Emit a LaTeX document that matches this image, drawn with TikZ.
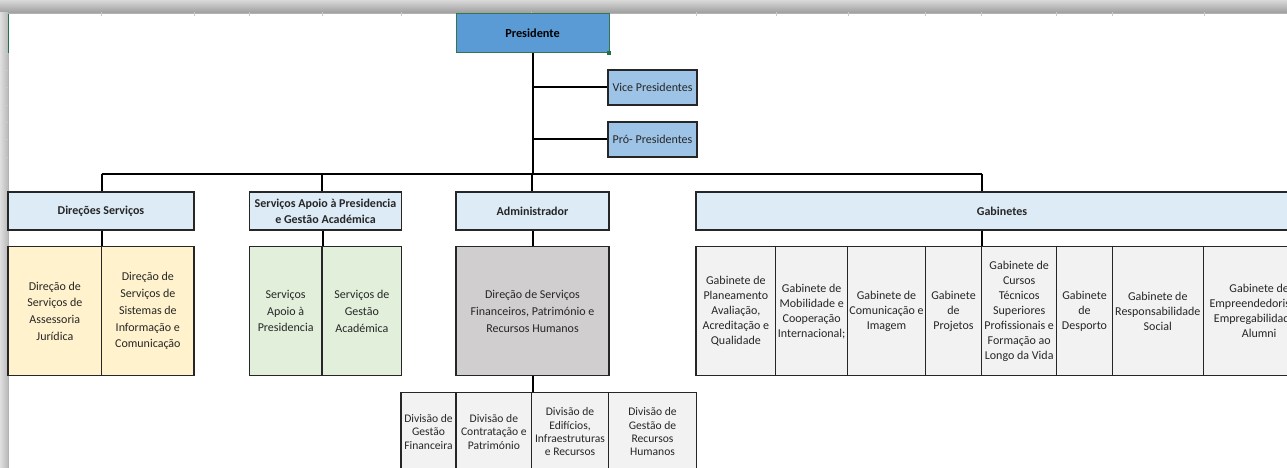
\documentclass[tikz,border=0pt]{standalone}
\usepackage{fontspec}
\setmainfont{Carlito}
\definecolor{presblue}{HTML}{5B9BD5}
\definecolor{vpblue}{HTML}{9DC3E6}
\definecolor{hdrblue}{HTML}{DDEBF7}
\definecolor{ylw}{HTML}{FFF2CC}
\definecolor{grn}{HTML}{E2EFDA}
\definecolor{gry}{HTML}{D0CECE}
\definecolor{ltg}{HTML}{F2F2F2}
\definecolor{selgreen}{HTML}{217346}
\definecolor{txt}{HTML}{262626}
\definecolor{gridln}{HTML}{C8C8C8}
\newcommand{\cellbox}[7]{%
  \node[#6, minimum width={(#4-#2)*1pt}, minimum height={(#5-#3)*1pt}] (#1) at ({(#2+#4)/2},{(#3+#5)/2}) {#7};}
\tikzset{
  cell/.style={draw=black!85, line width=1.1pt, inner sep=0pt, align=center, text=txt,
    font=\fontsize{12}{16.7}\selectfont},
  hdr/.style={cell, fill=hdrblue, line width=1.5pt, font=\bfseries\fontsize{12}{16}\selectfont},
  vpbox/.style={cell, fill=vpblue, line width=1.6pt},
  ylwcell/.style={cell, fill=ylw},
  grncell/.style={cell, fill=grn},
  grycell/.style={cell, fill=gry},
  gabcell/.style={cell, fill=ltg, font=\fontsize{12}{15}\selectfont},
  divcell/.style={cell, fill=ltg, font=\fontsize{11.6}{13.3}\selectfont},
  presbox/.style={cell, fill=presblue, draw=selgreen!80!gray, line width=1pt, text=black,
    font=\bfseries\fontsize{12.3}{15}\selectfont},
  link/.style={line width=2pt, black},
  tick/.style={gridln, line width=0.8pt},
}
\begin{document}
\begin{tikzpicture}[x=1pt, y=-1pt]
\useasboundingbox (0,0) rectangle (1287,468);
\clip (0,0) rectangle (1287,468);
\fill[white] (0,0) rectangle (1287,468);
% window frame
\shade[top color=gray!30, bottom color=gray!75] (0,0) rectangle (1287,12.5);
\shade[left color=gray!25, right color=gray!55] (0,12.5) rectangle (8,468);
\draw[gray!60, line width=1pt] (8,13.5) -- (1287,13.5);
\draw[gray!60, line width=1pt] (8,13.5) -- (8,468);
\draw[selgreen, line width=1.2pt] (8.3,14) -- (8.3,53);
\foreach \xx in {101.7,194,249,322,401.5,531.7,696.7,776.7,848,925.7,981,1056.7,1112.3,1204.3}
  \draw[tick] (\xx,12.5) -- (\xx,16);
\foreach \yy in {53,70,87.5,105,122,139,157}
  \draw[tick] (5,\yy) -- (8,\yy);

% boxes
\cellbox{pres}{456}{14}{609}{53}{presbox}{Presidente}
\node[fill=selgreen, minimum size=3.5pt, inner sep=0pt] (handle) at (609,53) {};
\cellbox{vice}{608}{70}{697}{105}{vpbox}{Vice Presidentes}
\cellbox{pro}{608}{122}{697}{157}{vpbox}{Pró- Presidentes}

\cellbox{dir}{8}{192}{194}{230}{hdr}{Direções Serviços}
\cellbox{sap}{249.3}{192}{401.7}{230}{hdr}{Serviços Apoio à Presidencia\\e Gestão Académica}
\cellbox{adm}{456}{192}{609}{230}{hdr}{Administrador}
\cellbox{gab}{696}{192}{1308}{230}{hdr}{Gabinetes}

\cellbox{y1}{8}{246.7}{101.7}{375.7}{ylwcell}{Direção de\\Serviços de\\Assessoria\\Jurídica}
\cellbox{y2}{101.7}{246.7}{194}{375.7}{ylwcell}{Direção de\\Serviços de\\Sistemas de\\Informação e\\Comunicação}
\cellbox{g1}{249.3}{246.7}{322}{375.7}{grncell}{Serviços\\Apoio à\\Presidencia}
\cellbox{g2}{322}{246.7}{401.7}{375.7}{grncell}{Serviços de\\Gestão\\Académica}
\cellbox{gr}{456}{246.7}{609}{375.7}{grycell}{Direção de Serviços\\Financeiros, Património e\\Recursos Humanos}

\cellbox{k1}{696}{246.7}{775.7}{375.7}{gabcell}{Gabinete de\\Planeamento\\Avaliação,\\Acreditação e\\Qualidade}
\cellbox{k2}{775.7}{246.7}{847.7}{375.7}{gabcell}{Gabinete de\\Mobilidade e\\Cooperação\\Internacional;}
\cellbox{k3}{847.7}{246.7}{925.3}{375.7}{gabcell}{Gabinete de\\Comunicação e\\Imagem}
\cellbox{k4}{925.3}{246.7}{981.7}{375.7}{gabcell}{Gabinete\\de\\Projetos}
\cellbox{k5}{981.7}{246.7}{1056.7}{375.7}{gabcell}{Gabinete de\\Cursos\\Técnicos\\Superiores\\Profissionais e\\Formação ao\\Longo da Vida}
\cellbox{k6}{1056.7}{246.7}{1112.3}{375.7}{gabcell}{Gabinete\\de\\Desporto}
\cellbox{k7}{1112.3}{246.7}{1203.3}{375.7}{gabcell}{Gabinete de\\Responsabilidade\\Social}
\cellbox{k8}{1203.3}{246.7}{1315}{375.7}{gabcell}{Gabinete de\\Empreendedorismo,\\Empregabilidade e\\Alumni}

\cellbox{d1}{401}{392.7}{456}{471}{divcell}{Divisão de\\Gestão\\Financeira}
\cellbox{d2}{456}{392.7}{531.7}{471}{divcell}{Divisão de\\Contratação e\\Património}
\cellbox{d3}{531.7}{392.7}{608.3}{471}{divcell}{Divisão de\\Edifícios,\\Infraestruturas\\e Recursos}
\cellbox{d4}{608.3}{392.7}{696.7}{471}{divcell}{Divisão de\\Gestão de\\Recursos\\Humanos}

% connectors
\coordinate (busL) at (101.7,174);
\coordinate (busS) at (322,174);
\coordinate (busA) at (532,174);
\coordinate (busR) at (981.7,174);
\draw[link] (busL) -- (busR);
\draw[link] (pres.south) -- (pres.south |- busA);
\draw[link] (pres.south |- vice.west) -- (vice.west);
\draw[link] (pres.south |- pro.west) -- (pro.west);
\draw[link] (busL) -- (busL |- dir.north);
\draw[link] (busS) -- (busS |- sap.north);
\draw[link] (busA) -- (busA |- adm.north);
\draw[link] (busR) -- (busR |- gab.north);
\draw[link] (dir.south -| y1.east) -- (y1.north east);
\draw[link] (sap.south -| g1.east) -- (g1.north east);
\draw[link] (adm.south) -- (gr.north);
\draw[link] (gr.south) -- (gr.south |- d2.north);
\draw[link] (gab.south -| k4.east) -- (k4.north east);
\end{tikzpicture}
\end{document}
